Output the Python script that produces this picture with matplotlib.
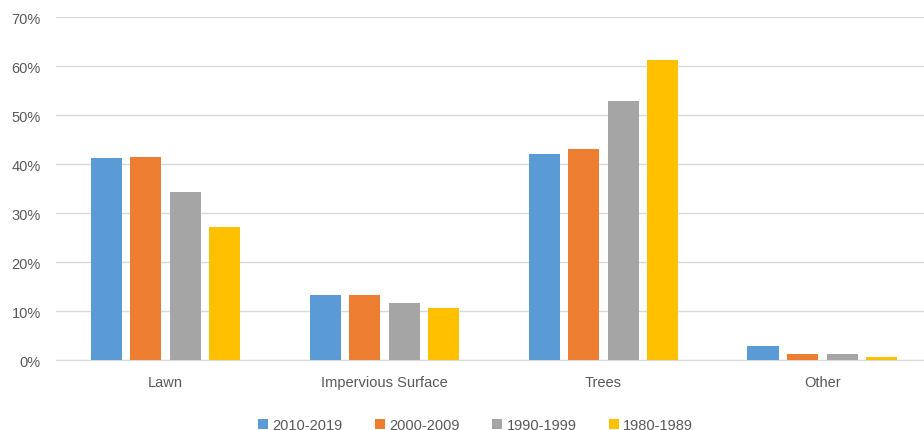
import numpy as np
import matplotlib.pyplot as plt
from matplotlib.ticker import PercentFormatter

categories = ["Lawn", "Impervious Surface", "Trees", "Other"]
periods = ["2010-2019", "2000-2009", "1990-1999", "1980-1989"]
share_2010s = [41.2, 13.3, 42.1, 2.8]
share_2000s = [41.5, 13.3, 43.0, 1.3]
share_1990s = [34.2, 11.6, 52.8, 1.3]
share_1980s = [27.1, 10.6, 61.3, 0.7]
colors = ["#5B9BD5", "#ED7D31", "#A5A5A5", "#FFC000"]

plt.rcParams["font.family"] = ["Liberation Sans", "DejaVu Sans"]
text_color = "#595959"

fig = plt.figure(figsize=(9.24, 4.31), dpi=100)
# plot area runs slightly past the right edge of the canvas
ax = fig.add_axes([0.0606, 0.1624, 0.948, 0.7958])

x = np.arange(len(categories))
width = 0.1416
step = 0.181
series = [share_2010s, share_2000s, share_1990s, share_1980s]
for i, (vals, label, c) in enumerate(zip(series, periods, colors)):
    ax.bar(x + (i - 1.5) * step, vals, width, color=c, label=label, zorder=3)

ax.set_xlim(-0.5, len(categories) - 0.5)
ax.set_ylim(0, 70)
ax.set_yticks(np.arange(0, 71, 10))
ax.yaxis.set_major_formatter(PercentFormatter(decimals=0))
ax.set_xticks(x)
ax.set_xticklabels(categories)
ax.grid(axis="y", color="#D9D9D9", linewidth=1, zorder=0)
for s in ["top", "right", "left"]:
    ax.spines[s].set_visible(False)
ax.spines["bottom"].set_color("#D9D9D9")
ax.tick_params(axis="both", length=0, colors=text_color, labelsize=10.5)
ax.tick_params(axis="y", pad=11)
ax.tick_params(axis="x", pad=11)

ax.legend(loc="upper center", bbox_to_anchor=(0.479, -0.13), ncol=4, frameon=False,
          fontsize=10.5, labelcolor=text_color, handlelength=0.7, handleheight=0.7,
          handletextpad=0.3, columnspacing=2.2)

fig.savefig("out.png", dpi=100)
